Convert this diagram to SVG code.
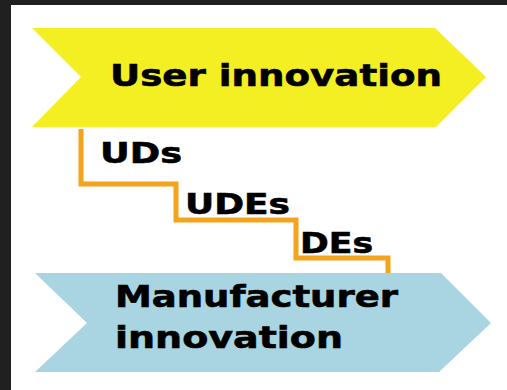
<svg xmlns="http://www.w3.org/2000/svg" width="507" height="390" viewBox="0 0 507 390">
  <style>
    .lbl { font-family: "DejaVu Sans", "Liberation Sans", sans-serif; font-weight: bold; fill: #000; stroke: #000; stroke-width: 0.6; }
    .stair { fill: none; stroke: #f4a41c; stroke-width: 5; stroke-linejoin: miter; }
  </style>
  <rect x="0" y="0" width="507" height="390" fill="#ffffff"/>
  <rect x="0" y="0" width="507" height="5" fill="#202020"/>
  <rect x="0" y="0" width="11" height="390" fill="#202020"/>
  <g id="user-innovation">
    <polygon points="32,28 435,28 486,77 436,127 32,127 81,77" fill="#f3ef22"/>
    <text class="lbl" x="110" y="86" font-size="30" textLength="332" lengthAdjust="spacingAndGlyphs">User innovation</text>
  </g>
  <g id="manufacturer-innovation">
    <polygon points="35,273 441,273 491,323 439,372 35,372 87,323" fill="#a9d4e1"/>
    <text class="lbl" x="115" y="307" font-size="30" textLength="283" lengthAdjust="spacingAndGlyphs">Manufacturer</text>
    <text class="lbl" x="115" y="348" font-size="30" textLength="228" lengthAdjust="spacingAndGlyphs">innovation</text>
  </g>
  <g id="connectors">
    <polyline class="stair" points="81,129 81,184 176,184 176,220 296,220 296,258 388,258 388,273"/>
  </g>
  <g id="uds">
    <text class="lbl" x="100" y="163" font-size="28" textLength="82" lengthAdjust="spacingAndGlyphs">UDs</text>
  </g>
  <g id="udes">
    <text class="lbl" x="185" y="214" font-size="28" textLength="105" lengthAdjust="spacingAndGlyphs">UDEs</text>
  </g>
  <g id="des">
    <text class="lbl" x="300" y="253" font-size="28" textLength="73" lengthAdjust="spacingAndGlyphs">DEs</text>
  </g>
</svg>
